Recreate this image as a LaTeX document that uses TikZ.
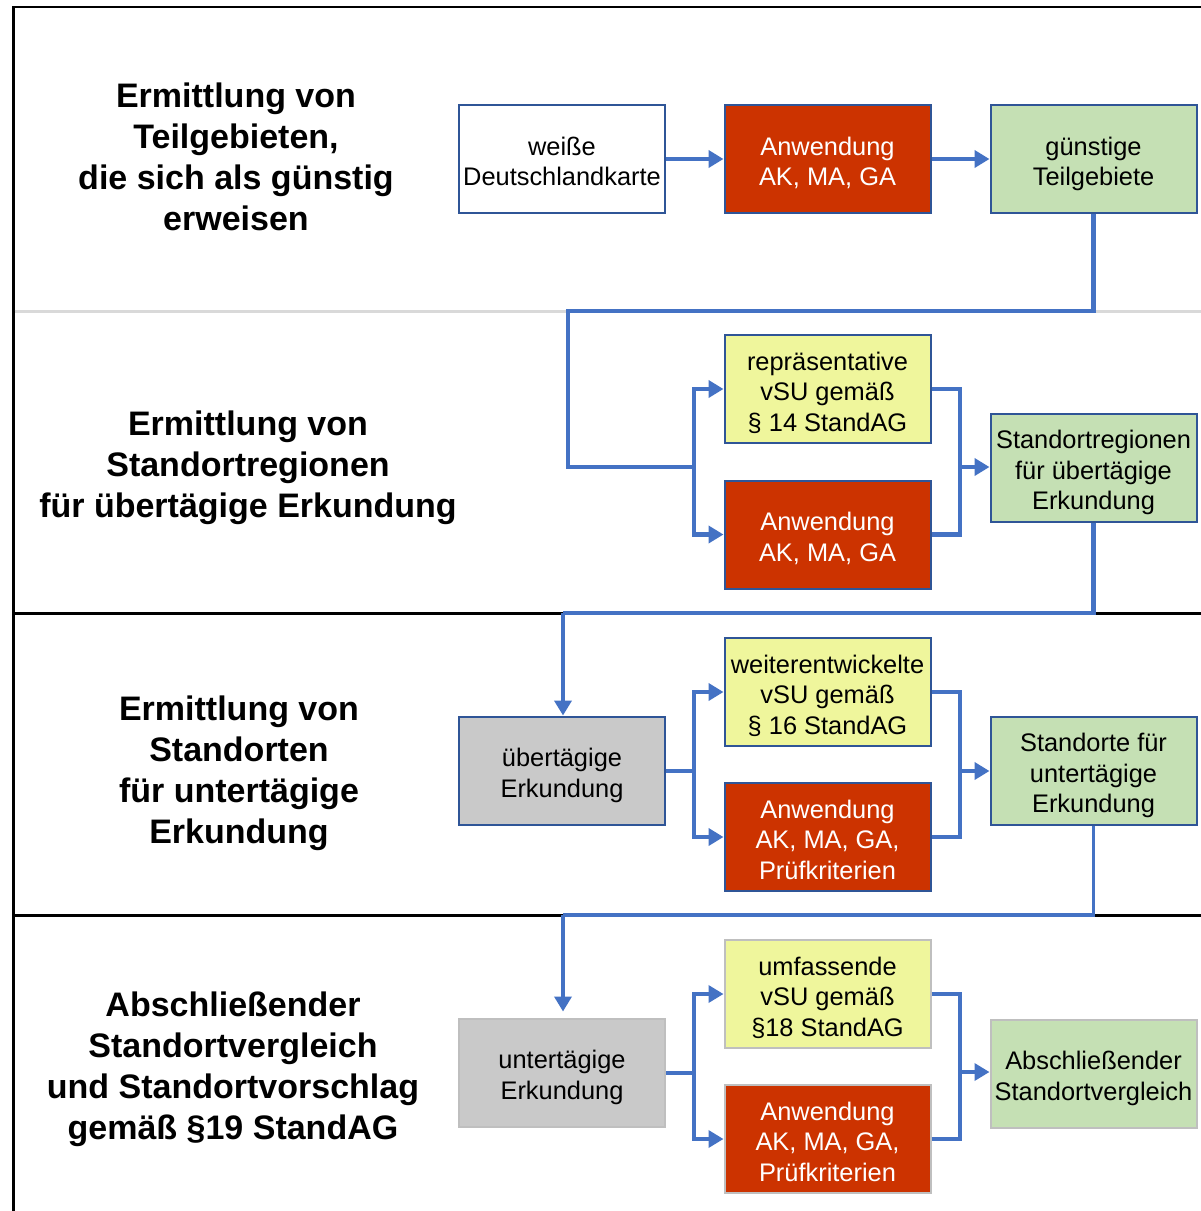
\documentclass[tikz,border=0pt]{standalone}
\usepackage{fontspec}
\setmainfont{Liberation Sans}
\usetikzlibrary{arrows.meta}
\definecolor{bordblue}{HTML}{2F5597}
\definecolor{connblue}{HTML}{4472C4}
\definecolor{redbox}{HTML}{CC3300}
\definecolor{yelbox}{HTML}{EFF69C}
\definecolor{grnbox}{HTML}{C5E0B4}
\definecolor{grybox}{HTML}{C9C9C9}
\definecolor{sepgray}{HTML}{D9D9D9}
\definecolor{lightbord}{HTML}{BFBFBF}
\newcommand\mytopstrut{\rule{0pt}{30pt}}
\newcommand\mybotstrut{\rule[-6.75pt]{0pt}{6.75pt}}
\begin{document}
\begin{tikzpicture}[x=1pt,y=-1pt,
  box/.style={draw=bordblue, line width=2pt, minimum width=206pt, minimum height=108pt,
    inner sep=0pt, align=center, font=\fontsize{25.4}{30.5}\selectfont},
  redb/.style={box, fill=redbox, text=white},
  yelb/.style={box, fill=yelbox},
  grnb/.style={box, fill=grnbox},
  gryb/.style={box, fill=grybox},
  whtb/.style={box, fill=white},
  lastrow/.style={draw=lightbord},
  conn/.style={draw=connblue, line width=4.5pt},
  connthin/.style={draw=connblue, line width=3.5pt},
  tip/.style={-{Triangle[length=15pt,width=17pt]}},
  title/.style={align=center, font=\bfseries\fontsize{34}{41}\selectfont},
  sepline/.style={line width=3pt}]
\useasboundingbox (0,0) rectangle (1201,1211);
\fill[white] (0,0) rectangle (1201,1211);

% frame and separators
\draw[line width=2.5pt] (13,7) -- (1201,7);
\draw[line width=3pt] (13,6) -- (13,1211);
\draw[sepline, draw=sepgray] (14.5,311) -- (1201,311);
\draw[sepline] (14.5,613) -- (1201,613);
\draw[sepline] (14.5,915) -- (1201,915);

% titles
\node[title] (t1) at (236,157) {Ermittlung von\\Teilgebieten,\\die sich als günstig\\erweisen};
\node[title] (t2) at (248,468) {Ermittlung von\\Standortregionen\\für übertägige Erkundung};
\node[title] (t3) at (239,773) {Ermittlung von\\Standorten\\für untertägige\\Erkundung};
\node[title] (t4) at (233,1069) {Abschließender\\Standortvergleich\\und Standortvorschlag\\gemäß §19 StandAG};

% row 1
\node[whtb] (weiss) at (562,159) {\mytopstrut weiße\\Deutschlandkarte\mybotstrut};
\node[redb] (anw1) at (827.5,159) {\mytopstrut Anwendung\\AK, MA, GA\mybotstrut};
\node[grnb] (guen) at (1093.5,159) {\mytopstrut günstige\\Teilgebiete\mybotstrut};

% row 2
\node[yelb] (rep) at (827.5,389) {\mytopstrut repräsentative\\vSU gemäß\\§ 14 StandAG\mybotstrut};
\node[redb] (anw2) at (827.5,534.5) {\mytopstrut Anwendung\\AK, MA, GA\mybotstrut};
\node[grnb] (sreg) at (1093.5,467.5) {\mytopstrut Standortregionen\\für übertägige\\Erkundung\mybotstrut};

% row 3
\node[gryb] (ueber) at (562,770.5) {\mytopstrut übertägige\\Erkundung\mybotstrut};
\node[yelb] (weiter) at (827.5,692) {\mytopstrut weiterentwickelte\\vSU gemäß\\§ 16 StandAG\mybotstrut};
\node[redb] (anw3) at (827.5,837) {\mytopstrut Anwendung\\AK, MA, GA,\\Prüfkriterien\mybotstrut};
\node[grnb] (sort) at (1093.5,770.5) {\mytopstrut Standorte für\\untertägige\\Erkundung\mybotstrut};

% row 4
\node[gryb, lastrow] (unter) at (562,1072.5) {\mytopstrut untertägige\\Erkundung\mybotstrut};
\node[yelb, lastrow] (umf) at (827.5,994) {\mytopstrut umfassende\\vSU gemäß\\§18 StandAG\mybotstrut};
\node[redb, lastrow] (anw4) at (827.5,1139) {\mytopstrut Anwendung\\AK, MA, GA,\\Prüfkriterien\mybotstrut};
\node[grnb, lastrow] (absch) at (1093.5,1073.5) {\mytopstrut Abschließender\\Standortvergleich\mybotstrut};

% junction coordinates
\coordinate (c1b) at (568,311);
\coordinate (c1c) at (568,467);
\coordinate (j1) at (694,467);
\coordinate (m1) at (960,467);
\coordinate (c2b) at (563,613);
\coordinate (j2) at (694,771);
\coordinate (m2) at (960,771);
\coordinate (c3b) at (563,915);
\coordinate (j3) at (694,1073);
\coordinate (m3) at (960,1072);

% row 1 connectors
\draw[conn, tip] (weiss.east) -- (anw1.west);
\draw[conn, tip] (anw1.east) -- (guen.west);
\draw[conn] (guen.south) |- (c1b) -- (c1c) -- (j1);

% row 2 connectors
\draw[conn, tip] (j1) |- (rep.west);
\draw[conn, tip] (j1) |- (anw2.west);
\draw[conn] (rep.east) -| (m1);
\draw[conn] (anw2.east) -| (m1);
\draw[conn, tip] (m1) -- (sreg.west |- m1);
\draw[conn] (sreg.south) |- (c2b);
\draw[conn, tip] (c2b) -- (ueber.north -| c2b);

% row 3 connectors
\draw[conn] (ueber.east |- j2) -- (j2);
\draw[conn, tip] (j2) |- (weiter.west);
\draw[conn, tip] (j2) |- (anw3.west);
\draw[conn] (weiter.east) -| (m2);
\draw[conn] (anw3.east) -| (m2);
\draw[conn, tip] (m2) -- (sort.west |- m2);
\draw[connthin] (sort.south) |- (c3b);
\draw[connthin, tip, shorten >=6pt] (c3b) -- (unter.north -| c3b);

% row 4 connectors
\draw[connthin] (unter.east |- j3) -- (j3);
\draw[connthin, tip] (j3) |- (umf.west);
\draw[connthin, tip] (j3) |- (anw4.west);
\draw[connthin] (umf.east) -| (m3);
\draw[connthin] (anw4.east) -| (m3);
\draw[connthin, tip] (m3) -- (absch.west |- m3);
\end{tikzpicture}
\end{document}
